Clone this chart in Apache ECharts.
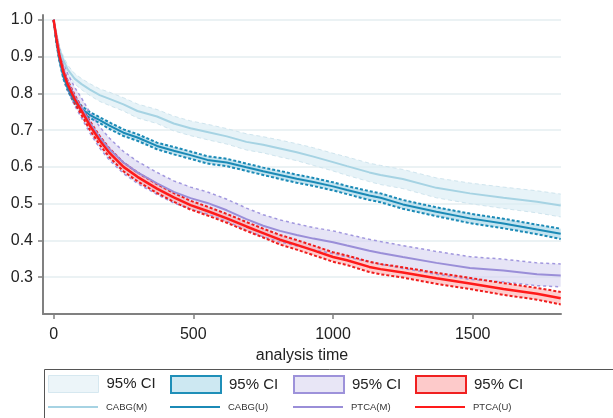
<!DOCTYPE html>
<html><head><meta charset="utf-8">
<script src="https://cdn.jsdelivr.net/npm/echarts@6/dist/echarts.min.js"></script>
<style>html,body{margin:0;padding:0;background:#fff}#c{width:613px;height:418px}</style>
</head><body><div id="c"></div>
<script>
// analysis time (days)
const times = [0,10,20,35,50,75,100,130,165,200,250,300,370,430,490,550,620,690,750,810,870,930,1000,1050,1130,1170,1250,1370,1490,1610,1730,1815];

const cabgM   = [1.0,.955,.92,.89,.865,.84,.825,.81,.795,.785,.77,.752,.737,.718,.705,.695,.683,.668,.66,.65,.64,.628,.613,.602,.585,.578,.567,.543,.528,.516,.505,.495];
const cabgMHi = [1.0,.961,.929,.901,.877,.854,.840,.826,.812,.803,.788,.771,.756,.738,.725,.716,.704,.690,.682,.673,.663,.652,.637,.627,.610,.604,.593,.570,.556,.545,.535,.526];
const cabgMLo = [1.0,.949,.911,.879,.853,.826,.810,.794,.778,.767,.752,.733,.718,.698,.685,.674,.662,.646,.638,.627,.617,.604,.589,.577,.560,.552,.541,.516,.500,.487,.475,.464];

const cabgU   = [1.0,.94,.895,.845,.815,.778,.758,.741,.727,.712,.693,.68,.657,.644,.632,.619,.612,.599,.588,.578,.568,.559,.547,.537,.522,.516,.498,.478,.46,.446,.43,.418];
const cabgUHi = [1.0,.944,.900,.851,.822,.785,.766,.749,.735,.721,.702,.689,.666,.654,.642,.629,.622,.609,.598,.589,.579,.570,.558,.548,.534,.528,.510,.490,.473,.459,.443,.432];
const cabgULo = [1.0,.936,.890,.839,.808,.771,.750,.733,.719,.703,.684,.671,.648,.634,.622,.609,.602,.589,.578,.567,.557,.548,.536,.526,.510,.504,.486,.466,.447,.433,.417,.404];

const ptcaM   = [1.0,.952,.91,.865,.832,.792,.76,.72,.68,.648,.612,.585,.555,.532,.515,.502,.482,.458,.44,.426,.415,.405,.395,.386,.372,.366,.355,.339,.325,.318,.308,.305];
const ptcaMHi = [1.0,.964,.926,.885,.854,.817,.787,.748,.709,.678,.642,.615,.585,.562,.545,.532,.512,.488,.470,.456,.445,.435,.426,.417,.403,.397,.386,.370,.356,.349,.339,.336];
const ptcaMLo = [1.0,.940,.894,.845,.810,.767,.733,.692,.651,.618,.582,.555,.525,.502,.485,.472,.452,.428,.410,.396,.385,.375,.364,.355,.341,.335,.324,.308,.294,.287,.277,.274];

const ptcaU   = [1.0,.95,.905,.858,.825,.785,.752,.712,.672,.638,.60,.573,.541,.517,.496,.48,.46,.438,.42,.402,.388,.373,.355,.346,.328,.322,.313,.297,.283,.268,.255,.243];
const ptcaUHi = [1.0,.956,.913,.867,.835,.796,.763,.724,.684,.650,.612,.585,.553,.529,.508,.492,.472,.450,.432,.415,.401,.386,.368,.359,.342,.336,.327,.312,.298,.284,.271,.260];
const ptcaULo = [1.0,.944,.897,.849,.815,.774,.741,.700,.660,.626,.588,.561,.529,.505,.484,.468,.448,.426,.408,.389,.375,.360,.342,.333,.314,.308,.299,.282,.268,.252,.239,.226];

const xTicks = [0,500,1000,1500];
const yTicks = [0.3,0.4,0.5,0.6,0.7,0.8,0.9,1.0];
const groupNames = ['CABG(M)','CABG(U)','PTCA(M)','PTCA(U)'];
const ciLabel = '95% CI';
const xTitle = 'analysis time';

const groups = [
  {name: groupNames[0], s: cabgM, hi: cabgMHi, lo: cabgMLo, line:'#a6d3e3', lw:2, fill:'rgba(218,236,244,0.65)', dash:'#d0e5ee', dw:1, dtype:[4,3],
   legFill:'#ecf5f9', legBorder:'#d6e8f0', legBW:1},
  {name: groupNames[1], s: cabgU, hi: cabgUHi, lo: cabgULo, line:'#1b8ab6', lw:2, fill:'rgba(150,205,228,0.55)', dash:'#1b8ab6', dw:2, dtype:[3,2],
   legFill:'#cde8f2', legBorder:'#1f8fb8', legBW:2},
  {name: groupNames[2], s: ptcaM, hi: ptcaMHi, lo: ptcaMLo, line:'#9a8ed8', lw:2, fill:'rgba(214,210,240,0.6)', dash:'#a197de', dw:1.5, dtype:[3,3],
   legFill:'#e8e6f6', legBorder:'#9d92da', legBW:2},
  {name: groupNames[3], s: ptcaU, hi: ptcaUHi, lo: ptcaULo, line:'#ff1a1a', lw:2.5, fill:'rgba(252,165,165,0.55)', dash:'#f01c1c', dw:2, dtype:[3,2],
   legFill:'#fdcaca', legBorder:'#f02020', legBW:2}
];

function pairs(arr){ return times.map((t,i)=>[t,arr[i]]); }

const series = [];
groups.forEach((g,k)=>{
  series.push({type:'custom', name:g.name+' CI', coordinateSystem:'cartesian2d', silent:true, z:1,
    data:[[times[0], g.hi[0]]],
    itemStyle:{color:g.legFill, borderColor:g.legBorder, borderWidth:g.legBW},
    renderItem:(params, api)=>{
      const pts = [];
      for (let i=0;i<times.length;i++) pts.push(api.coord([times[i], g.hi[i]]));
      for (let i=times.length-1;i>=0;i--) pts.push(api.coord([times[i], g.lo[i]]));
      return {type:'polygon', shape:{points:pts}, style:{fill:g.fill, stroke:null}};
    }});
});
groups.forEach((g,k)=>{
  [g.hi,g.lo].forEach(arr=>{
    series.push({type:'line', name:g.name+' CI', data:pairs(arr), symbol:'none', silent:true,
      lineStyle:{color:g.dash, width:g.dw, type:g.dtype}, itemStyle:{color:g.legFill}, z:2});
  });
});
groups.forEach((g,k)=>{
  series.push({type:'line', name:g.name, data:pairs(g.s), symbol:'none', silent:true,
    itemStyle:{color:g.line}, lineStyle:{color:g.line, width:g.lw}, z:3});
});

const colLeft = [48,170,293,415];
const legends = [];
groups.forEach((g,k)=>{
  legends.push({left:colLeft[k], top:375, padding:0, itemWidth:50, itemHeight:17, itemGap:8, selectedMode:false,
    formatter: ()=>ciLabel,
    textStyle:{fontSize:15, color:'#222', fontFamily:'Liberation Sans, Arial, sans-serif', padding:[0,0,0,3]},
    data:[{name:g.name+' CI', icon:'rect', itemStyle:{color:g.legFill, borderColor:g.legBorder, borderWidth:g.legBW}}]});
  legends.push({left:colLeft[k], top:402, padding:0, itemWidth:50, itemHeight:2, itemGap:8, selectedMode:false,
    textStyle:{fontSize:9.5, color:'#333', fontFamily:'Liberation Sans Narrow, Liberation Sans, Arial, sans-serif', padding:[0,0,0,3]},
    data:[{name:g.name, icon:'rect', itemStyle:{color:g.line, borderWidth:0}}]});
});

const chart = echarts.init(document.getElementById('c'), null, {renderer:'canvas'});
chart.setOption({
  animation:false,
  backgroundColor:'#fff',
  grid:{left:43, right:52, top:15, bottom:104, containLabel:false},
  xAxis:{type:'value', min:-38, max:1816,
    name:xTitle, nameLocation:'middle', nameGap:27,
    nameTextStyle:{fontSize:16, color:'#222', fontFamily:'Liberation Sans, Arial, sans-serif'},
    axisLine:{show:true, onZero:false, lineStyle:{color:'#808080', width:2}},
    axisTick:{show:true, length:5, lineStyle:{color:'#808080', width:1.5}, customValues:xTicks},
    axisLabel:{customValues:xTicks, fontSize:16, color:'#222', margin:13, formatter:v=>String(v), fontFamily:'Liberation Sans, Arial, sans-serif'},
    splitLine:{show:false}},
  yAxis:{type:'value', min:0.2, max:1.013,
    axisLine:{show:true, onZero:false, lineStyle:{color:'#808080', width:2}},
    axisTick:{show:true, length:5, lineStyle:{color:'#808080', width:1.5}, customValues:yTicks},
    axisLabel:{customValues:yTicks, fontSize:16, color:'#222', margin:10, formatter:v=>v.toFixed(1), fontFamily:'Liberation Sans, Arial, sans-serif'},
    splitLine:{show:true, lineStyle:{color:'#e4eef1', width:1.5}}},
  legend:legends,
  graphic:[{type:'rect', left:42, top:367, shape:{width:600, height:60}, style:{fill:'none', stroke:'#555', lineWidth:1}, silent:true, z:-1}],
  series:series
});
</script>
</body></html>
